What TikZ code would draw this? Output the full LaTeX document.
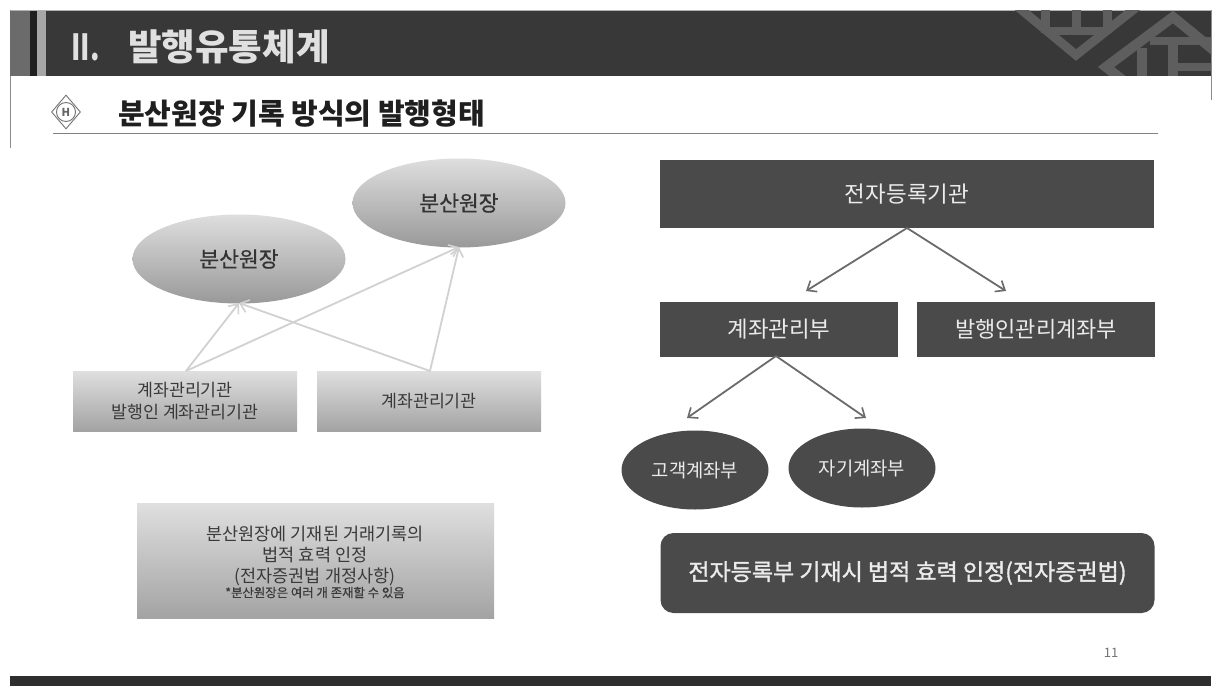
\documentclass[tikz,border=0pt]{standalone}
\usepackage{fontspec}
\setmainfont{Noto Sans CJK KR}
\newfontfamily\semi[FakeBold=0.6]{Noto Sans CJK KR}
\newfontfamily\semib[FakeBold=1.4]{Noto Sans CJK KR}
\usetikzlibrary{arrows.meta,shapes.geometric}
\definecolor{hdr}{HTML}{383838}
\definecolor{boxc}{HTML}{4A4A4A}
\definecolor{motif}{HTML}{5E5E5E}
\definecolor{txt}{HTML}{3A3A3A}
\newcommand{\dn}[1]{\raisebox{-2pt}{#1}}
\tikzset{
  x=1pt,y=-1pt,
  darkbox/.style={fill=boxc,draw=none,text=white!92!black,inner sep=0pt,align=center},
  greybox/.style={top color=gray!25!white,bottom color=black!36,draw=none,text=txt,inner sep=0pt,align=center},
  greyell/.style={ellipse,top color=black!13,bottom color=black!40,draw=none,text=black!80,inner sep=0pt,align=center},
  darkell/.style={ellipse,fill=boxc,draw=none,text=white!92!black,inner sep=0pt,align=center},
  lightarrow/.style={draw=black!18,line width=1.8pt,-{Straight Barb[length=8pt,width=13pt,line width=1.6pt]}},
  darkarrow/.style={draw=black!58,line width=1.8pt,-{Straight Barb[length=8pt,width=13pt,line width=1.6pt]}},
  lab/.style={inner sep=0pt,align=center},
}
\begin{document}
\begin{tikzpicture}
\useasboundingbox (0,0) rectangle (1220,698);
\fill[white] (0,0) rectangle (1220,698);
% frame
\draw[black!30,line width=0.8pt] (10,10) -- (1211,10);
\draw[black!45,line width=0.7pt] (10,10) -- (10,148);
\draw[black!45,line width=0.7pt] (1211,10) -- (1211,100);
% header
\fill[hdr] (10,11) rectangle (1211,76);
\fill[black!58] (10,11) rectangle (30,76);
\fill[black!88] (30,11) rectangle (37,76);
\fill[black!35] (37,11) rectangle (46,76);
% motif
\begin{scope}
\clip (960,11) rectangle (1211,76);
\draw[motif,line width=9pt] (1012,2) -- (1076,55) -- (1143,2);
\draw[motif,line width=9pt] (1045,8) -- (1045,33) (1076,8) -- (1076,33) (1107,8) -- (1107,33);
\draw[motif,line width=8pt] (1045,31) -- (1107,31);
\draw[motif,line width=10pt] (1222,57) -- (1173,17) -- (1106,67) -- (1125,82);
\draw[motif,line width=10pt] (1142,48) -- (1142,80) (1173,45) -- (1173,80);
\draw[motif,line width=8pt] (1150,41) -- (1215,41) (1173,67) -- (1215,67);
\end{scope}
\node[lab,text=white!88!black,font=\fontsize{36}{36}\selectfont\bfseries,anchor=west,xscale=0.75] (num) at (71,47) {II.};
\node[lab,text=white!88!black,font=\fontsize{36.5}{36.5}\selectfont\bfseries,anchor=west] (title) at (128,47) {발행유통체계};
% subtitle
\node[diamond,draw=black!55,line width=0.9pt,minimum width=29pt,minimum height=34pt,inner sep=0pt] (dia) at (66,112) {};
\draw[black!55,line width=0.9pt] (66,112) circle[radius=9.5pt];
\node[lab,text=black!60,font=\fontsize{11}{11}\selectfont\bfseries] (diatext) at (66,112) {H};
\node[lab,text=black!88,font=\fontsize{29}{29}\selectfont\bfseries,anchor=west] (sub) at (118,114) {분산원장 기록 방식의 발행형태};
\draw[black!50,line width=0.7pt] (53,133) -- (1158,133);
% left
\node[greyell,minimum width=213pt,minimum height=89pt,font=\fontsize{21.5}{21.5}\semi] (e1) at (239,259) {\dn{분산원장}};
\node[greyell,minimum width=213pt,minimum height=89pt,font=\fontsize{21.5}{21.5}\semi] (e2) at (459,203) {\dn{분산원장}};
\node[greybox,minimum width=224pt,minimum height=60pt,font=\fontsize{17.3}{21.5}\selectfont] (b1) at (185,401) {\dn{계좌관리기관}\\\dn{발행인 계좌관리기관}};
\node[greybox,minimum width=224pt,minimum height=60pt,font=\fontsize{17.3}{21.5}\selectfont] (b2) at (429,401) {\dn{계좌관리기관}};
\coordinate (b1t) at (186,371);
\coordinate (b2t) at (430,371);
\coordinate (e1b) at (239,303);
\coordinate (e2b) at (459,247);
\draw[lightarrow] (b1t) -- (e1b);
\draw[lightarrow] (b1t) -- (e2b);
\draw[lightarrow] (b2t) -- (e1b);
\draw[lightarrow] (b2t) -- (e2b);
\node[greybox,minimum width=357pt,minimum height=115pt] (note) at (315.5,560.5) {};
\node[lab,text=txt,font=\fontsize{17.5}{21}\selectfont] (notetext) at (315,556) {분산원장에 기재된 거래기록의\\법적 효력 인정\\(전자증권법 개정사항)};
\node[lab,text=txt,font=\fontsize{12.4}{12.4}\semi] (notesmall) at (315,592.5) {*분산원장은 여러 개 존재할 수 있음};
% right
\node[darkbox,minimum width=494pt,minimum height=68pt,font=\fontsize{22.5}{22.5}\selectfont] (r1) at (907,194) {\dn{전자등록기관}};
\node[darkbox,minimum width=238pt,minimum height=55pt,font=\fontsize{22.4}{22.4}\selectfont] (r2) at (779,329) {\dn{계좌관리부}};
\node[darkbox,minimum width=238pt,minimum height=55pt,font=\fontsize{22}{22}\selectfont] (r3) at (1036,329) {\dn{발행인관리계좌부}};
\node[darkell,minimum width=147pt,minimum height=79pt,font=\fontsize{18.8}{18.8}\selectfont] (o1) at (695,470) {\dn{고객계좌부}};
\node[darkell,minimum width=147pt,minimum height=79pt,font=\fontsize{18.8}{18.8}\selectfont] (o2) at (862,468) {\dn{자기계좌부}};
\coordinate (r1b) at (907,228);
\coordinate (r2b) at (776,356);
\coordinate (r2t) at (806,291);
\coordinate (r3t) at (1006,291);
\coordinate (o1t) at (687,418);
\coordinate (o2t) at (866,418);
\draw[darkarrow] (r1b) -- (r2t);
\draw[darkarrow] (r1b) -- (r3t);
\draw[darkarrow] (r2b) -- (o1t);
\draw[darkarrow] (r2b) -- (o2t);
\node[darkbox,rounded corners=13pt,minimum width=494pt,minimum height=80pt,font=\fontsize{23}{23}\semib] (r4) at (907.5,573) {전자등록부 기재시 법적 효력 인정(전자증권법)};
% footer
\node[lab,text=black!55,font=\fontsize{13}{13}\selectfont] (page) at (1111,653) {11};
\fill[black!82] (10,676) rectangle (1211,686);
\end{tikzpicture}
\end{document}
